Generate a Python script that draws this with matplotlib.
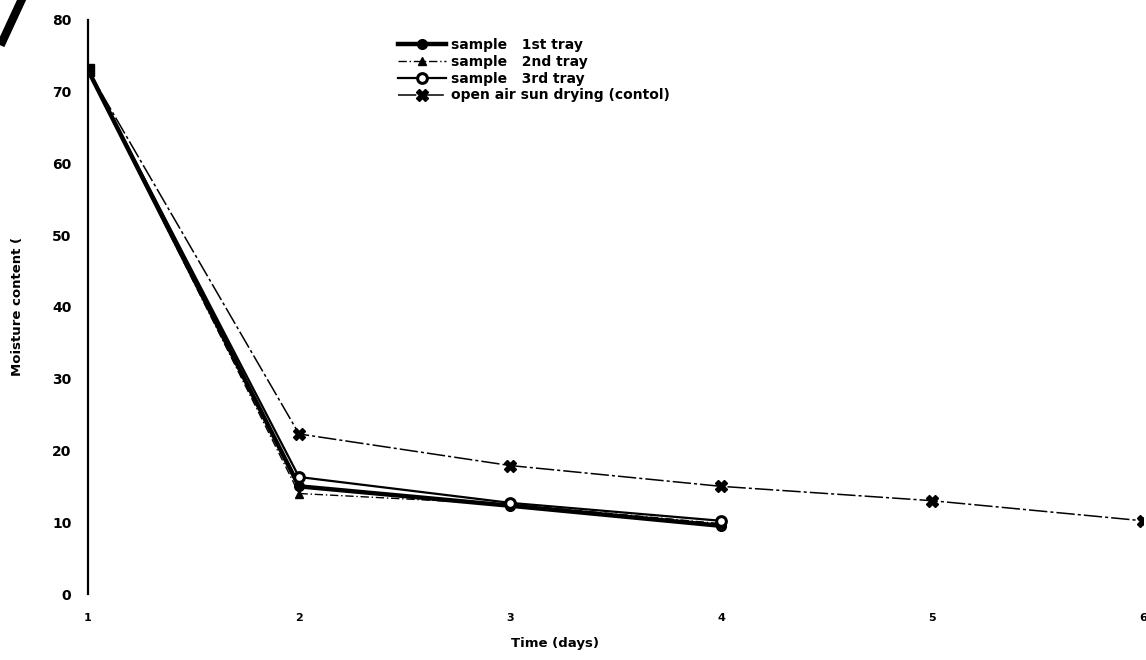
import matplotlib.pyplot as plt
from matplotlib.lines import Line2D

days = [1, 2, 3, 4, 5, 6]
days_trays = [1, 2, 3, 4]
tray1 = [73, 15.0, 12.3, 9.5]
tray2 = [73, 14.0, 12.5, 9.8]
tray3 = [73, 16.3, 12.7, 10.2]
control = [73, 22.3, 17.9, 15.0, 13.0, 10.2]

labels = ['sample   1st tray', 'sample   2nd tray', 'sample   3rd tray',
          'open air sun drying (contol)']

plt.rcParams['font.family'] = ['DejaVu Sans']

fig = plt.figure(figsize=(11.46, 6.6), dpi=100)
ax = fig.add_axes([0.0768, 0.1, 0.9206, 0.87])

ax.plot(days_trays, tray1, color='black', lw=3.2, marker='o', ms=7,
        label=labels[0])
ax.plot(days_trays, tray2, color='black', lw=1.0, ls=(0, (6, 2, 1, 2)),
        marker='^', ms=6, label=labels[1])
ax.plot(days_trays, tray3, color='black', lw=1.6, marker='o', ms=7,
        mfc='white', mew=2.2, label=labels[2])
ax.plot(days, control, color='black', lw=1.1, ls=(0, (12, 2, 2, 2)),
        marker='X', ms=8, label=labels[3])

# day-1 point looks like a filled square in the scan
ax.plot(days[:1], control[:1], color='black', marker='s', ms=9, ls='none')

ax.set_xlim(1, 6)
ax.set_ylim(0, 80)
ax.set_xticks(days)
ax.set_yticks(range(0, 81, 10))
for s in ['top', 'right', 'bottom']:
    ax.spines[s].set_visible(False)
ax.spines['left'].set_linewidth(1.6)
ax.tick_params(axis='both', length=0)
ax.tick_params(axis='y', pad=12, labelsize=10)
ax.tick_params(axis='x', pad=14, labelsize=8)
for t in ax.get_xticklabels() + ax.get_yticklabels():
    t.set_fontweight('bold')

ax.set_xlabel('Time (days)', fontsize=9.5, fontweight='bold')
ax.xaxis.set_label_coords(0.443, -0.075)
ax.set_ylabel('Moisture content (', fontsize=9.5, fontweight='bold', labelpad=20)

leg = ax.legend(loc='upper left', bbox_to_anchor=(0.285, 0.985), frameon=False,
                fontsize=10, handlelength=3.4, labelspacing=0.2,
                handletextpad=0.4, borderpad=0.2)
for t in leg.get_texts():
    t.set_fontweight('bold')

# scan artifact top-left
fig.add_artist(Line2D([0.002, 0.018], [0.937, 0.997], color='black', lw=6,
                      transform=fig.transFigure))

fig.savefig('out.png', dpi=100)
